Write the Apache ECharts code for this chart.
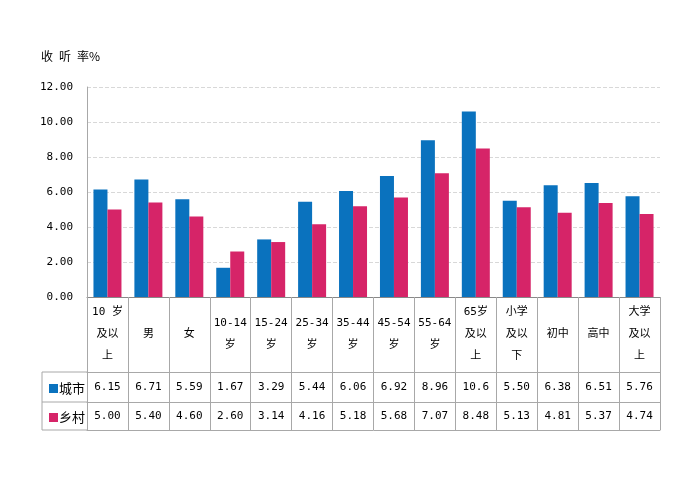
<!DOCTYPE html>
<html><head><meta charset="utf-8">
<script src="https://cdn.jsdelivr.net/npm/echarts@6/dist/echarts.min.js"></script>
<style>html,body{margin:0;padding:0;background:#fff}#c{width:700px;height:484px}</style>
</head><body><div id="c"></div>
<script>
var categories = ['10 岁\n及以\n上','男','女','10-14\n岁','15-24\n岁','25-34\n岁','35-44\n岁','45-54\n岁','55-64\n岁','65岁\n及以\n上','小学\n及以\n下','初中','高中','大学\n及以\n上'];
var city = [6.15,6.71,5.59,1.67,3.29,5.44,6.06,6.92,8.96,10.6,5.50,6.38,6.51,5.76];
var rural = [5.00,5.40,4.60,2.60,3.14,4.16,5.18,5.68,7.07,8.48,5.13,4.81,5.37,4.74];
var seriesNames = ['城市','乡村'];
var yTicks = {min:0, max:12, interval:2};

var FONT = "'DejaVu Sans Mono','Noto Sans CJK SC',monospace";
var LINE = '#a8a8a8';
var chart = echarts.init(document.getElementById('c'));
function fmt(v){return v.toPrecision(3);}
var baseAxis = {
  type:'category', position:'bottom', boundaryGap:true,
  axisLine:{show:true, lineStyle:{color:LINE}},
  axisTick:{show:true, alignWithLabel:false, interval:0, lineStyle:{color:LINE}},
  axisLabel:{interval:0, verticalAlign:'middle', color:'#000', fontFamily:FONT, fontSize:11}
};
function ax(extra){return echarts.util.merge(echarts.util.clone(baseAxis), extra, true);}
chart.setOption({
  animation:false,
  title:{text:'收\u2002听\u2002率%', left:36, top:45, textStyle:{fontSize:12, fontWeight:'normal', color:'#000', fontFamily:"'Noto Sans CJK SC'"}},
  legend:[
    {data:[seriesNames[0]], left:44, top:377, icon:'rect', itemWidth:9, itemHeight:9, itemGap:0,
     textStyle:{fontSize:13, color:'#000', fontFamily:"'Noto Sans CJK SC'", padding:[0,0,0,-4]}, selectedMode:false},
    {data:[seriesNames[1]], left:44, top:406, icon:'rect', itemWidth:9, itemHeight:9, itemGap:0,
     textStyle:{fontSize:13, color:'#000', fontFamily:"'Noto Sans CJK SC'", padding:[0,0,0,-4]}, selectedMode:false}
  ],
  grid:{left:87, right:40, top:87, bottom:187, containLabel:false},
  xAxis:[
    ax({data:categories, axisTick:{length:75}, axisLine:{lineStyle:{color:'#888'}},
        axisLabel:{margin:37, lineHeight:22, fontSize:11}}),
    ax({data:city.map(fmt), offset:75, axisTick:{length:30}, axisLabel:{margin:15}}),
    ax({data:rural.map(fmt), offset:105, axisTick:{length:28}, axisLabel:{margin:14}}),
    ax({data:categories, offset:133, axisTick:{show:false}, axisLabel:{show:false}})
  ],
  yAxis:{type:'value', min:yTicks.min, max:yTicks.max, interval:yTicks.interval,
    axisLine:{show:true, lineStyle:{color:LINE}}, axisTick:{show:false},
    axisLabel:{formatter:function(v){return v.toFixed(2);}, margin:14, color:'#000', fontFamily:FONT, fontSize:11},
    splitLine:{show:true, lineStyle:{type:'dashed', color:'#d8d8d8'}}},
  series:[
    {name:seriesNames[0], type:'bar', data:city, barWidth:14, barGap:'0%', itemStyle:{color:'#0a72be'}, xAxisIndex:0},
    {name:seriesNames[1], type:'bar', data:rural, barWidth:14, barGap:'0%', itemStyle:{color:'#d62468'}, xAxisIndex:0}
  ],
  graphic:[
    {type:'line', shape:{x1:42,y1:372,x2:87,y2:372}, style:{stroke:LINE, lineWidth:1}},
    {type:'line', shape:{x1:42,y1:402,x2:87,y2:402}, style:{stroke:LINE, lineWidth:1}},
    {type:'line', shape:{x1:42,y1:430,x2:87,y2:430}, style:{stroke:LINE, lineWidth:1}},
    {type:'line', shape:{x1:42,y1:372,x2:42,y2:430}, style:{stroke:LINE, lineWidth:1}}
  ]
});
</script></body></html>
